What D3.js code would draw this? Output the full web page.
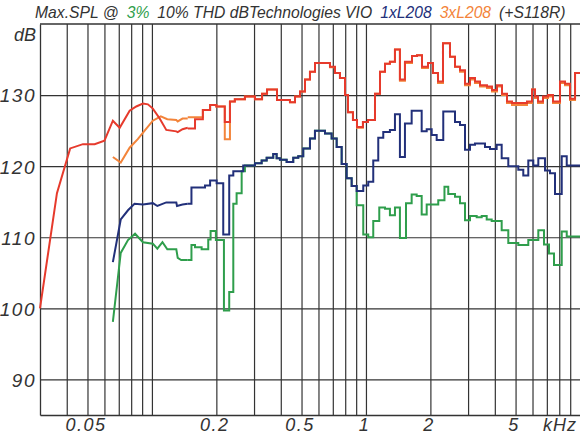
<!DOCTYPE html>
<html><head><meta charset="utf-8">
<script src="https://cdn.jsdelivr.net/npm/d3@7"></script>
<style>
html,body{margin:0;padding:0;background:#fff;}
svg{display:block;}
text{font-family:"Liberation Sans",Arial,sans-serif;font-style:italic;fill:#333;}
</style></head>
<body>
<svg id="c" width="580" height="435"></svg>
<script>
// ---------- data (frequency in kHz, level in dB) ----------
const gridFreqs = [0.04,0.05,0.06,0.07,0.08,0.09,0.1,0.2,0.3,0.4,0.5,0.6,0.7,0.8,0.9,1,2,3,4,5,6,7,8,9];
const xTickLabels = {"0.05":"0.05","0.2":"0.2","0.5":"0.5","1":"1","2":"2","5":"5"};
const yTicks = [90,100,110,120,130];

// red: 3xL208 (+S118R) — smooth low part then 1/n-octave steps
const redLowF  = [0.030,0.036,0.0415,0.0476,0.054,0.060,0.0657,0.0707,0.0787,0.0845,0.0908,0.0958,0.101,0.1087,0.1167,0.130,0.132,0.139,0.147];
const redLowDB = [100.0,116.2,122.5,123.1,123.1,123.6,126.4,125.4,127.8,128.4,128.8,128.7,128.1,126.7,125.1,124.9,124.8,125.2,125.4];
const redStepF  = [0.147,0.159,0.173,0.187,0.200,0.219,0.2315,0.244,0.272,0.303,0.327,0.345,0.384,0.4415,0.466,0.492,0.519,0.5475,0.578,0.679,0.7165,0.756,0.798,0.824,0.8695,0.908,0.968,1.022,1.102,1.163,1.227,1.294,1.366,1.441,1.521,1.641,1.731,1.827,1.949,2.056,2.170,2.290,2.469,2.606,2.750,2.902,3.062,3.231,3.410,3.677,3.880,4.094,4.320,4.560,4.811,5.653,5.967,6.163,6.365,6.715,7.088,7.480,8.065,8.512,8.983,9.480,10.0];
const redStepDB = [125.3,126.6,127.9,128.6,128.4,126.2,129.1,129.4,129.8,129.4,130.2,130.8,129.3,129.0,129.8,130.5,132.2,133.3,134.5,134.0,133.1,132.4,130.0,127.6,126.5,125.5,126.2,126.5,130.2,133.3,134.4,134.7,136.4,132.2,134.7,135.5,135.6,134.0,134.5,133.1,131.9,137.3,135.4,134.0,133.5,131.6,132.4,131.9,131.4,131.2,130.7,131.4,130.2,129.1,128.9,129.1,130.8,129.8,129.1,129.8,130.0,129.1,131.9,131.6,129.5,133.1,133.1];

// orange: 3xL208
const orangeLowF  = [0.0657,0.0715,0.0787,0.0859,0.0925,0.101,0.110,0.118,0.130,0.132,0.139,0.147];
const orangeLowDB = [121.3,120.5,122.6,123.8,125.0,126.4,127.0,126.6,126.5,126.3,126.7,126.7];
const orangeStepF  = [0.147,0.173,0.187,0.200,0.219,0.2315,0.244,0.272,0.303,0.327,0.345,0.384,0.4415,0.466,0.492,0.519,0.5475,0.578,0.679,0.7165,0.756,0.798,0.824,0.8695,0.908,0.968,1.022,1.102,1.163,1.227,1.294,1.366,1.441,1.521,1.641,1.731,1.827,1.949,2.056,2.170,2.290,2.469,2.606,2.750,2.902,3.062,3.231,3.410,3.677,3.880,4.094,4.320,4.560,4.811,5.653,5.967,6.163,6.365,6.715,7.088,7.480,8.065,8.512,8.983,9.480,10.0];
const orangeStepDB = [126.9,127.9,128.6,128.4,123.8,129.1,129.4,129.8,129.4,130.2,130.8,129.3,129.0,129.8,130.5,132.2,133.3,134.5,133.9,133.1,132.4,130.0,127.6,126.5,125.4,126.2,126.5,130.2,133.3,134.4,134.7,136.4,132.0,134.5,135.5,135.6,133.8,134.5,133.1,131.7,137.3,135.4,134.0,133.3,131.4,132.2,131.7,131.2,131.0,130.5,131.2,130.0,128.9,128.6,128.9,130.8,129.6,128.9,129.6,129.8,128.9,131.7,131.4,129.3,133.1,133.1];

// navy: 1xL208 @10% THD
const navyLowF  = [0.0657,0.0715,0.0773,0.0829,0.0908,0.101,0.106,0.1167,0.130,0.131,0.139,0.147];
const navyLowDB = [106.5,112.5,113.8,114.7,114.6,114.8,114.4,114.9,114.9,114.4,114.6,114.7];
const navyStepF  = [0.147,0.153,0.177,0.187,0.2006,0.2154,0.2297,0.240,0.267,0.303,0.3256,0.3436,0.3688,0.3825,0.3964,0.426,0.4574,0.4827,0.5093,0.5475,0.5777,0.6435,0.6913,0.7298,0.770,0.8124,0.8574,0.9049,0.9714,1.025,1.0816,1.1415,1.2046,1.294,1.366,1.441,1.521,1.635,1.821,1.922,2.028,2.140,2.297,2.606,2.750,2.902,3.062,3.231,3.598,3.797,4.080,4.306,4.624,5.149,5.433,5.734,6.051,6.386,6.861,7.242,7.642,8.215,8.670,10.0];
const navyStepDB = [114.7,117.0,117.3,118.0,117.6,110.4,118.7,119.3,120.1,120.4,120.8,121.2,121.7,121.1,120.9,120.6,121.2,121.4,122.5,123.9,125.0,124.6,123.9,122.7,120.3,118.3,117.2,116.5,117.3,117.8,120.8,124.0,124.8,125.1,127.3,121.3,126.0,127.8,124.9,125.2,124.4,123.7,127.7,126.2,125.8,122.3,123.0,123.2,122.7,122.4,123.0,121.1,120.0,119.5,118.7,120.8,120.1,121.1,119.4,119.0,116.1,121.4,120.1,120.1];

// green: 1xL208 @3% THD
const greenLowF  = [0.0657,0.0715,0.0773,0.0834,0.0908,0.101,0.106,0.112,0.118,0.130,0.132,0.137,0.147];
const greenLowDB = [98.1,107.8,109.6,110.5,109.3,109.1,108.4,109.3,108.3,108.3,107.1,106.8,106.8];
const greenStepF  = [0.147,0.153,0.159,0.1707,0.1833,0.188,0.199,0.217,0.2297,0.240,0.2487,0.2626,0.272,0.303,0.3256,0.3436,0.3688,0.3825,0.3964,0.426,0.4574,0.4827,0.5093,0.5475,0.5777,0.6435,0.6913,0.7298,0.770,0.8124,0.8574,0.9049,0.9714,1.025,1.0816,1.154,1.227,1.294,1.366,1.441,1.538,1.635,1.7255,1.821,1.922,2.1765,2.327,2.424,2.606,2.750,2.902,3.062,3.291,3.473,3.665,3.867,4.306,4.624,5.149,5.734,6.386,6.788,7.164,7.561,8.215,8.670,10.0];
const greenStepDB = [106.8,108.9,108.6,108.3,109.7,110.9,109.6,99.7,102.3,114.7,116.2,119.3,120.1,120.4,120.8,121.2,121.7,121.1,120.9,120.6,121.2,121.4,122.5,123.9,125.0,124.6,123.9,122.7,120.3,118.3,117.2,114.5,110.4,110.0,112.3,114.2,114.0,113.1,114.2,109.9,114.8,116.0,115.8,113.2,114.6,115.2,117.1,116.1,115.7,114.8,112.4,113.0,112.8,113.0,112.5,112.3,111.0,109.2,108.9,109.6,111.0,109.0,107.7,106.1,110.8,110.1,110.1];

const seriesColors = {green:"#2f9e4c", navy:"#22307a", orange:"#f3843a", red:"#e63a2c"};

// title pieces: [text, colour]
const titleParts = [["Max.SPL @","#333"],["3%","#2f9e4c"],["10% THD dBTechnologies VIO","#333"],
                    ["1xL208","#22307a"],["3xL208","#f3843a"],["(+S118R)","#333"]];

// ---------- drawing ----------
const svg = d3.select("#c");
const x = d3.scaleLog().domain([0.03, 10]).range([40, 580]);
const y = d3.scaleLinear().domain([85, 140]).range([415, 24]);

const gx = svg.append("g").attr("transform","translate(0,415)")
  .call(d3.axisBottom(x).tickValues(gridFreqs).tickSize(-391).tickSizeOuter(0)
        .tickFormat(d => xTickLabels[String(d)] || ""));
gx.select(".domain").attr("stroke","#333").attr("stroke-width",1.3);
gx.selectAll(".tick line").attr("stroke","#333").attr("stroke-width",1.2);
gx.selectAll(".tick text").attr("y",16).attr("dy",0).attr("x",-2)
  .style("font-size","18px").style("letter-spacing","1.5px").attr("fill","#333");

const gy = svg.append("g").attr("transform","translate(40,0)")
  .call(d3.axisLeft(y).tickValues(yTicks).tickSize(-540).tickSizeOuter(0).tickFormat(d3.format("d")));
gy.select(".domain").attr("stroke","#333").attr("stroke-width",1.3);
gy.selectAll(".tick line").attr("stroke","#333").attr("stroke-width",1.2);
gy.selectAll(".tick text").attr("x",-4).attr("dy","0.36em")
  .style("font-size","19px").style("letter-spacing","1.5px").attr("fill","#333");

// frame top
svg.append("line").attr("x1",40).attr("x2",580).attr("y1",y(140)).attr("y2",y(140))
  .attr("stroke","#333").attr("stroke-width",1.3);

svg.append("text").attr("x",36).attr("y",41).attr("text-anchor","end")
  .style("font-size","18px").text("dB");
svg.append("text").attr("x",577).attr("y",431).attr("text-anchor","end")
  .style("font-size","18px").style("letter-spacing","1px").text("kHz");

const lowLine = d3.line().x(d => x(d[0])).y(d => y(d[1])).curve(d3.curveLinear);
const stepLine = d3.line().x(d => x(d[0])).y(d => y(d[1])).curve(d3.curveStepAfter);

function drawSeries(lowF, lowDB, stepF, stepDB, color){
  const g = svg.append("g").attr("fill","none").attr("stroke",color)
    .attr("stroke-width",2).attr("stroke-linejoin","miter").attr("stroke-linecap","butt");
  g.append("path").attr("d", lowLine(d3.zip(lowF, lowDB)));
  g.append("path").attr("d", stepLine(d3.zip(stepF, stepDB)));
}
drawSeries(greenLowF, greenLowDB, greenStepF, greenStepDB, seriesColors.green);
drawSeries(navyLowF, navyLowDB, navyStepF, navyStepDB, seriesColors.navy);
drawSeries(orangeLowF, orangeLowDB, orangeStepF, orangeStepDB, seriesColors.orange);
drawSeries(redLowF, redLowDB, redStepF, redStepDB, seriesColors.red);

// title: font size chosen so the pieces naturally span the header
const tLeft = 35, tRight = 566, gap = 8, baseSize = 19;
const tEls = titleParts.map(p => svg.append("text").attr("y",18)
    .style("font-size", baseSize + "px").style("fill",p[1]).text(p[0]));
const widths = tEls.map(t => t.node().getComputedTextLength());
const k = Math.min(1, (tRight - tLeft - gap * (widths.length - 1)) / d3.sum(widths));
const fs = baseSize * k;
let cx = tLeft;
tEls.forEach(t => {
  t.style("font-size", fs + "px").attr("x", cx);
  cx += t.node().getComputedTextLength() + gap;
});
</script>
</body></html>
